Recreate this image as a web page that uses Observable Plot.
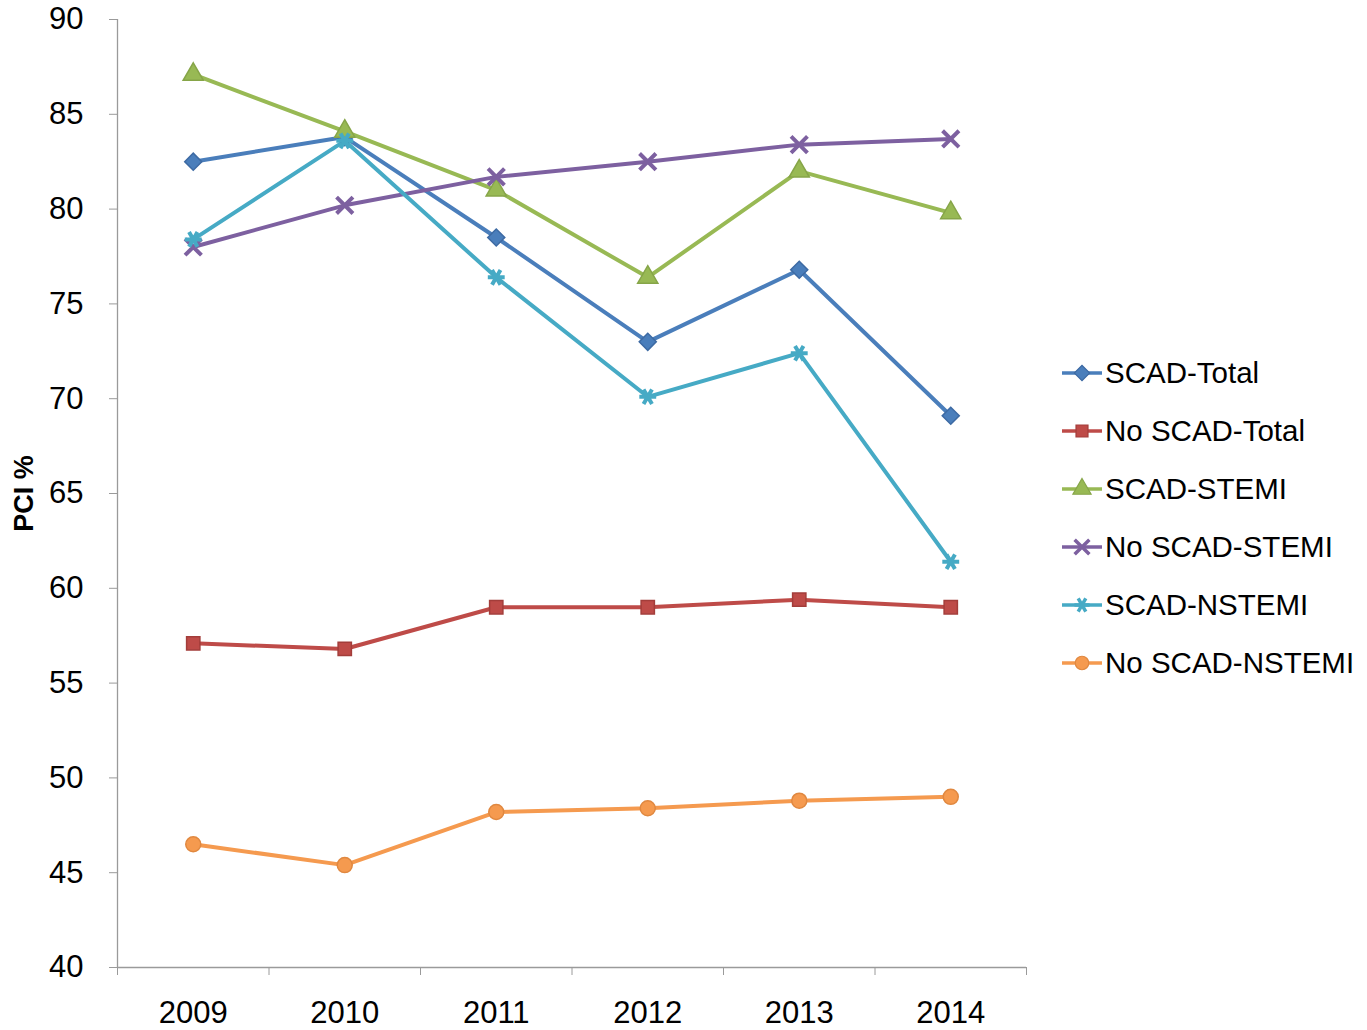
<!DOCTYPE html>
<html>
<head>
<meta charset="utf-8">
<script src="https://cdn.jsdelivr.net/npm/d3@7"></script>
<script src="https://cdn.jsdelivr.net/npm/@observablehq/plot@0.6"></script>
<style>
  html, body { margin: 0; padding: 0; background: #fff; }
  #wrap { position: relative; width: 1367px; height: 1030px; font-family: "Liberation Sans", Arial, sans-serif; }
  #legend { position: absolute; left: 1060px; top: 344px; }
  .item { display: flex; align-items: center; height: 58px; font-size: 29.5px; color: #000; white-space: nowrap; }
  .item svg { margin-right: 1px; }
</style>
</head>
<body>
<div id="wrap"><div id="legend"></div></div>
<script>
const years = ["2009", "2010", "2011", "2012", "2013", "2014"];
const seriesNames = ["SCAD-Total", "No SCAD-Total", "SCAD-STEMI", "No SCAD-STEMI", "SCAD-NSTEMI", "No SCAD-NSTEMI"];
const scadTotal    = [82.5, 83.8, 78.5, 73.0, 76.8, 69.1];
const noScadTotal  = [57.1, 56.8, 59.0, 59.0, 59.4, 59.0];
const scadStemi    = [87.1, 84.1, 81.0, 76.4, 82.0, 79.8];
const noScadStemi  = [78.0, 80.2, 81.7, 82.5, 83.4, 83.7];
const scadNstemi   = [78.4, 83.6, 76.4, 70.1, 72.4, 61.4];
const noScadNstemi = [46.5, 45.4, 48.2, 48.4, 48.8, 49.0];
const yTicks = [40, 45, 50, 55, 60, 65, 70, 75, 80, 85, 90];

const colors  = ["#4a7ebb", "#be4b48", "#98b954", "#7d60a0", "#46aac5", "#f59a4f"];
const strokes = ["#3d6aa3", "#a33d3a", "#86a548", "#6a5089", "#3993ab", "#e08840"];
const symbols = ["square", "square", "triangle", "times", "asterisk", "circle"];
const rotations = [45, 0, 0, 0, 90, 0];
const radii = [6.8, 7.5, 7.5, 7.5, 8, 7.5];
const seriesValues = [scadTotal, noScadTotal, scadStemi, noScadStemi, scadNstemi, noScadNstemi];

const data = [];
seriesNames.forEach((name, si) => {
  seriesValues[si].forEach((v, i) => data.push({series: name, si, xi: i + 0.5, year: years[i], value: v}));
});

const axisColor = "#9a9a9a";
const boundaries = d3.range(0, years.length + 1);
const centers = years.map((_, i) => i + 0.5);

const marks = [
  Plot.ruleX([0], {stroke: axisColor, strokeWidth: 1.3}),
  Plot.ruleY([40], {stroke: axisColor, strokeWidth: 1.3}),
  Plot.axisY({ticks: yTicks, tickSize: 8, tickPadding: 26, stroke: axisColor, fill: "#000", fontSize: 31, label: null, tickFormat: d => d}),
  Plot.axisX({ticks: boundaries, tickSize: 8, stroke: axisColor, tickFormat: () => "", label: null}),
  Plot.axisX({ticks: centers, tickSize: 0, tickPadding: 33, fill: "#000", fontSize: 31, label: null, tickFormat: d => years[Math.round(d - 0.5)]}),
  Plot.text(["PCI %"], {frameAnchor: "left", dx: -93, rotate: -90, textAnchor: "middle", fontWeight: "bold", fontSize: 27, fill: "#000"})
];

seriesNames.forEach((name, si) => {
  const d = data.filter(r => r.si === si);
  marks.push(Plot.line(d, {x: "xi", y: "value", stroke: colors[si], strokeWidth: 4}));
});
seriesNames.forEach((name, si) => {
  const d = data.filter(r => r.si === si);
  const sym = symbols[si];
  const strokeOnly = sym === "times" || sym === "asterisk";
  marks.push(Plot.dot(d, {
    x: "xi", y: "value", symbol: () => sym, r: radii[si],
    fill: strokeOnly ? "none" : colors[si],
    stroke: strokeOnly ? colors[si] : strokes[si],
    strokeWidth: strokeOnly ? 4 : 1.5,
    rotate: rotations[si]
  }));
});

const chart = Plot.plot({
  width: 1367,
  height: 1030,
  marginLeft: 117,
  marginRight: 341,
  marginTop: 19,
  marginBottom: 63,
  style: {fontFamily: "'Liberation Sans', Arial, sans-serif", fontSize: "31px", background: "#fff", overflow: "visible"},
  x: {type: "linear", domain: [0, years.length], axis: null},
  y: {domain: [40, 90], axis: null},
  symbol: {type: "identity"},
  marks
});
document.getElementById("wrap").prepend(chart);
chart.style.position = "absolute";
chart.style.left = "0";
chart.style.top = "0";

// Legend (HTML)
const legend = d3.select("#legend");
const symTypes = {square: d3.symbolSquare, triangle: d3.symbolTriangle, times: d3.symbolTimes, asterisk: d3.symbolAsterisk, circle: d3.symbolCircle};
seriesNames.forEach((name, si) => {
  const item = legend.append("div").attr("class", "item");
  const svg = item.append("svg").attr("width", 44).attr("height", 24);
  svg.append("line").attr("x1", 2).attr("x2", 42).attr("y1", 12).attr("y2", 12)
    .attr("stroke", colors[si]).attr("stroke-width", 3.5);
  const sym = symbols[si];
  const strokeOnly = sym === "times" || sym === "asterisk";
  const rr = radii[si] * 0.9;
  svg.append("path").attr("d", d3.symbol(symTypes[sym], Math.PI * rr * rr)())
    .attr("transform", `translate(22,12) rotate(${rotations[si]})`)
    .attr("fill", strokeOnly ? "none" : colors[si])
    .attr("stroke", strokeOnly ? colors[si] : strokes[si])
    .attr("stroke-width", strokeOnly ? 3.5 : 1.2);
  item.append("span").text(name);
});
</script>
</body>
</html>
